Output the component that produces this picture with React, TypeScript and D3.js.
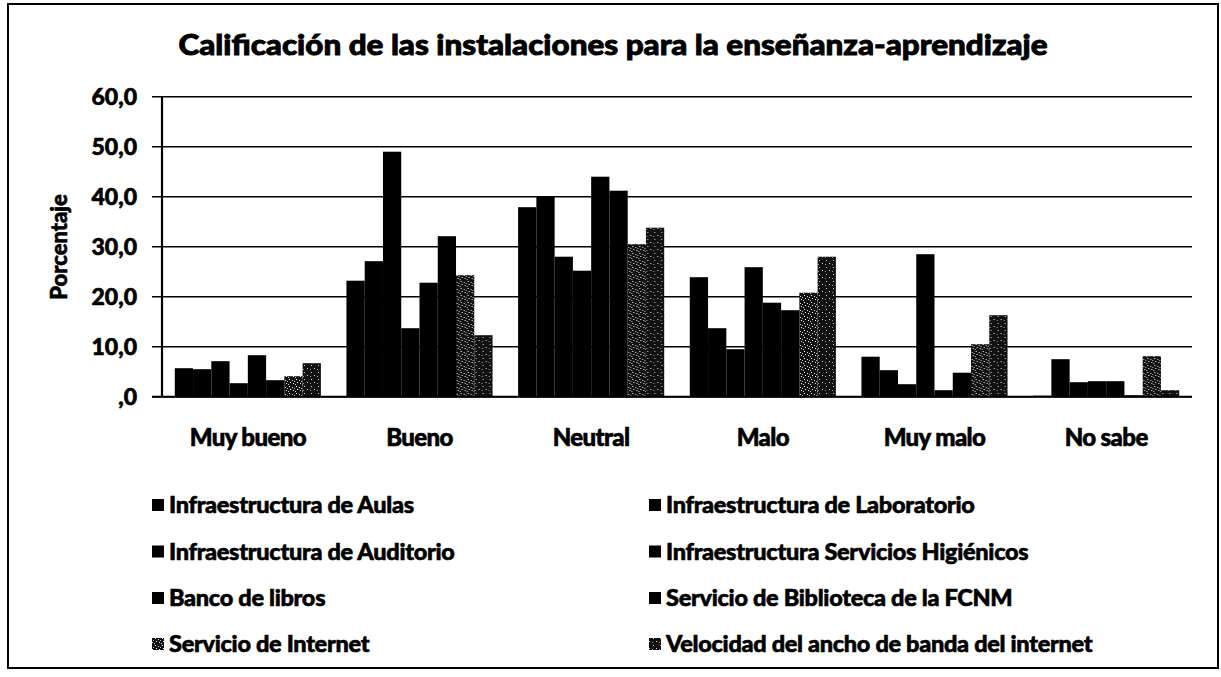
import React from "react";
import * as d3 from "d3";

const TITLE = "Calificación de las instalaciones para la enseñanza-aprendizaje";
const Y_LABEL = "Porcentaje";
const categories = ["Muy bueno", "Bueno", "Neutral", "Malo", "Muy malo", "No sabe"];
const seriesNames = [
  "Infraestructura de Aulas",
  "Infraestructura de Laboratorio",
  "Infraestructura de Auditorio",
  "Infraestructura Servicios Higiénicos",
  "Banco de libros",
  "Servicio de Biblioteca de la FCNM",
  "Servicio de Internet",
  "Velocidad del ancho de banda del internet",
];
const aulas = [5.7, 23.2, 37.9, 23.9, 8.0, 0.2];
const laboratorio = [5.5, 27.1, 40.0, 13.7, 5.3, 7.5];
const auditorio = [7.1, 49.0, 28.0, 9.5, 2.5, 2.9];
const higienicos = [2.7, 13.7, 25.2, 25.9, 28.5, 3.1];
const bancoLibros = [8.3, 22.8, 44.0, 18.8, 1.3, 3.1];
const biblioteca = [3.3, 32.1, 41.2, 17.3, 4.8, 0.3];
const internet = [4.1, 24.3, 30.5, 20.8, 10.5, 8.1];
const velocidad = [6.7, 12.3, 33.8, 28.0, 16.3, 1.3];
const seriesValues = [aulas, laboratorio, auditorio, higienicos, bancoLibros, biblioteca, internet, velocidad];
const yTicks = [0, 10, 20, 30, 40, 50, 60];
const yTickLabels = [",0", "10,0", "20,0", "30,0", "40,0", "50,0", "60,0"];

const FONT = "Lato, 'Open Sans', sans-serif";

export default function App() {
  const W = 1221, H = 677;
  const left = 162, right = 1192, top = 96.7, bottom = 396.7;
  const x = d3.scaleBand<string>().domain(categories).range([left, right]).padding(0);
  const xi = d3
    .scaleBand<number>()
    .domain(d3.range(seriesNames.length))
    .range([0, x.bandwidth()])
    .paddingInner(0)
    .paddingOuter(0.7);
  const y = d3.scaleLinear().domain([0, 60]).range([bottom, top]);

  const fillFor = (i: number) => (i === 6 ? "url(#speckLight)" : i === 7 ? "url(#speckDark)" : "#000");

  const legendRowsY = [505, 551.5, 598, 644];
  const legendColX = [152, 649];
  const heavy = { stroke: "#000", strokeWidth: 0.6, paintOrder: "stroke" as const };

  return (
    <div style={{ position: "absolute", left: 0, top: 0 }}>
      <svg width={W} height={H} style={{ display: "block", background: "#fff" }}>
        <defs>
          <pattern id="speckLight" width="7" height="7" patternUnits="userSpaceOnUse">
            <rect width="7" height="7" fill="#111" />
            <rect x="1" y="1" width="1" height="1" fill="#fff" />
            <rect x="4" y="2" width="1" height="1" fill="#ddd" />
            <rect x="2" y="4" width="1" height="1" fill="#fff" />
            <rect x="5" y="5" width="1" height="1" fill="#eee" />
            <rect x="6" y="3" width="1" height="1" fill="#bbb" />
            <rect x="0" y="6" width="1" height="1" fill="#ccc" />
          </pattern>
          <pattern id="speckDark" width="7" height="7" patternUnits="userSpaceOnUse">
            <rect width="7" height="7" fill="#111" />
            <rect x="2" y="1" width="1" height="1" fill="#ccc" />
            <rect x="5" y="4" width="1" height="1" fill="#ddd" />
            <rect x="1" y="5" width="1" height="1" fill="#999" />
          </pattern>
        </defs>

        {/* outer border */}
        <rect x={8} y={4} width={1210} height={664} fill="none" stroke="#000" strokeWidth={2} />

        {/* title */}
        <text
          x={613}
          y={55}
          textAnchor="middle"
          fontFamily={FONT}
          fontWeight={900}
          fontSize={29}
          textLength={869}
          lengthAdjust="spacingAndGlyphs"
          fill="#000"
          {...heavy}
          strokeWidth={0.9}
        >
          {TITLE}
        </text>

        {/* gridlines and ticks */}
        {yTicks.map((t, i) => (
          <g key={t}>
            <line x1={152} x2={right} y1={y(t)} y2={y(t)} stroke="#000" strokeWidth={1.6} />
            <text
              x={137}
              y={y(t)}
              dy="0.35em"
              textAnchor="end"
              fontFamily={FONT}
              fontWeight={900}
              fontSize={23}
              fill="#000"
              {...heavy}
            >
              {yTickLabels[i]}
            </text>
          </g>
        ))}
        <line x1={left} x2={left} y1={top} y2={bottom} stroke="#000" strokeWidth={2.2} />

        {/* y axis label */}
        <text
          transform={`translate(59,247) rotate(-90)`}
          textAnchor="middle"
          dy="0.35em"
          fontFamily={FONT}
          fontWeight={900}
          fontSize={22}
          fill="#000"
          {...heavy}
        >
          {Y_LABEL}
        </text>

        {/* bars */}
        {categories.map((c, ci) => (
          <g key={c} transform={`translate(${x(c)},0)`}>
            {seriesValues.map((vals, si) => (
              <rect
                key={si}
                x={xi(si)}
                y={y(vals[ci])}
                width={xi.bandwidth()}
                height={bottom - y(vals[ci])}
                fill={fillFor(si)}
              />
            ))}
          </g>
        ))}
        <line x1={152} x2={right} y1={bottom} y2={bottom} stroke="#000" strokeWidth={2} />

        {/* category labels */}
        {categories.map((c) => (
          <text
            key={c}
            x={(x(c) as number) + x.bandwidth() / 2}
            y={446}
            textAnchor="middle"
            fontFamily={FONT}
            fontWeight={900}
            fontSize={24}
            letterSpacing={-0.6}
            fill="#000"
            {...heavy}
          >
            {c}
          </text>
        ))}

        {/* legend */}
        {seriesNames.map((name, i) => {
          const col = i % 2;
          const row = Math.floor(i / 2);
          const lx = legendColX[col];
          const ly = legendRowsY[row];
          return (
            <g key={name}>
              <rect x={lx} y={ly - 6} width={12} height={12} fill={fillFor(i)} />
              <text
                x={lx + 17}
                y={ly}
                dy="0.35em"
                fontFamily={FONT}
                fontWeight={900}
                fontSize={23.5}
                letterSpacing={-0.3}
                fill="#000"
                {...heavy}
              >
                {name}
              </text>
            </g>
          );
        })}
      </svg>
    </div>
  );
}
